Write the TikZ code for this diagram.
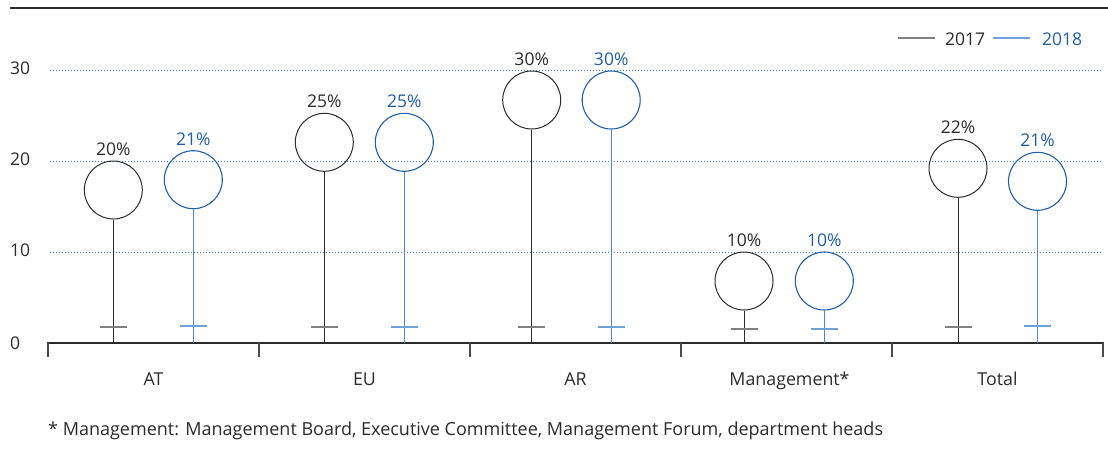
\documentclass[tikz,border=0pt]{standalone}
\usepackage{fontspec}
\setmainfont{Open Sans}
\definecolor{ink}{HTML}{2B2B2B}
\definecolor{bluetxt}{HTML}{1F5FA8}
\definecolor{bluestem}{HTML}{4A8AC8}
\definecolor{bluebar}{HTML}{6FA3D6}
\definecolor{graybar}{HTML}{808080}
\definecolor{gridblue}{HTML}{3A7CC0}
\tikzset{
  topline/.style={draw=ink,line width=2.4pt},
  gridln/.style={draw=gridblue,line width=1pt,dash pattern=on 1pt off 2pt},
  axisln/.style={draw=ink,line width=2pt},
  tickln/.style={draw=ink!85,line width=1.4pt},
  txt/.style={inner sep=0pt,font=\fontsize{17.5}{20}\selectfont,text=ink},
  ylab/.style={txt,anchor=west},
  catlab/.style={txt,anchor=base,font=\fontsize{17.8}{20}\selectfont},
  lolA/.style={circle,draw=ink,line width=1pt,minimum size=58pt,inner sep=0pt},
  lolB/.style={circle,draw=bluetxt,line width=1.1pt,minimum size=58pt,inner sep=0pt},
  stemA/.style={draw=ink,line width=1pt},
  stemB/.style={draw=bluestem,line width=1.4pt},
  barA/.style={draw=graybar,line width=1.8pt},
  barB/.style={draw=bluebar,line width=1.8pt},
  valA/.style={txt,anchor=base},
  valB/.style={txt,anchor=base,text=bluetxt},
}
\begin{document}
\begin{tikzpicture}[x=1pt,y=-1pt]
\useasboundingbox (0,0) rectangle (1108,448);
% top rule
\coordinate (tl) at (10,8);
\coordinate (tr) at (1108,8);
\draw[topline] (tl) -- (tr);
% grid and y labels
\foreach \v/\y in {10/252,20/161,30/70}{
  \coordinate (gl\v) at (50,\y);
  \coordinate (gr\v) at (1102,\y);
  \draw[gridln] (gl\v) -- (gr\v);
  \node[ylab] (yl\v) at (10,\y-1.5) {\v};
}
\node[ylab] (yl0) at (10,343) {0};
% axis
\coordinate (axl) at (47,343);
\coordinate (axr) at (1104,343);
\draw[axisln] (axl) -- (axr);
\foreach \i in {0,...,5}{
  \coordinate (tk\i) at (48+211*\i,343);
  \coordinate (tb\i) at (48+211*\i,357);
  \draw[tickln] (tk\i) -- (tb\i);
}
% category labels
\node[catlab] (cAT) at (153.5,385) {AT};
\node[catlab] (cEU) at (364.5,385) {EU};
\node[catlab] (cAR) at (575.5,385) {AR};
\node[catlab] (cMg) at (789.5,385) {Management*};
\node[catlab] (cTo) at (997.5,385) {Total};
% 2017 lollipops
\foreach \n/\x/\t/\v/\b in {AT/113.3/161/20/327,EU/324.3/113.3/25/327,AR/531.7/71/30/327,Mg/744/252/10/329,To/958/139.3/22/327}{
  \node[lolA] (a\n) at (\x,\t+29) {};
  \coordinate (ab\n) at (\x,343);
  \draw[stemA] (a\n.south) -- (ab\n);
  \coordinate (abl\n) at (\x-13.5,\b);
  \coordinate (abr\n) at (\x+13.5,\b);
  \draw[barA] (abl\n) -- (abr\n);
  \node[valA] (av\n) at (\x,\t-5.5) {\v\%};
}
% 2018 lollipops
\foreach \n/\x/\t/\v/\b in {AT/193.3/150.7/21/326,EU/404.3/113.3/25/327,AR/611.2/71/30/327,Mg/824.3/252/10/329,To/1037.5/152.3/21/326}{
  \node[lolB] (b\n) at (\x,\t+29) {};
  \coordinate (bb\n) at (\x,343);
  \draw[stemB] (b\n.south) -- (bb\n);
  \coordinate (bbl\n) at (\x-13.5,\b);
  \coordinate (bbr\n) at (\x+13.5,\b);
  \draw[barB] (bbl\n) -- (bbr\n);
  \node[valB] (bv\n) at (\x,\t-5.5) {\v\%};
}
% legend
\coordinate (lA1) at (898,38);
\coordinate (lA2) at (935,38);
\draw[draw=graybar,line width=1.4pt] (lA1) -- (lA2);
\node[txt,anchor=base west] (lgA) at (945,45.5) {2017};
\coordinate (lB1) at (993,38);
\coordinate (lB2) at (1030,38);
\draw[draw=bluebar,line width=1.4pt] (lB1) -- (lB2);
\node[txt,anchor=base west,text=bluetxt] (lgB) at (1042,45.5) {2018};
% footnote
\node[txt,anchor=base west,font=\fontsize{18}{21}\selectfont] (fn) at (48,435)
  {* Management: Management Board, Executive Committee, Management Forum, department heads};
\end{tikzpicture}
\end{document}
